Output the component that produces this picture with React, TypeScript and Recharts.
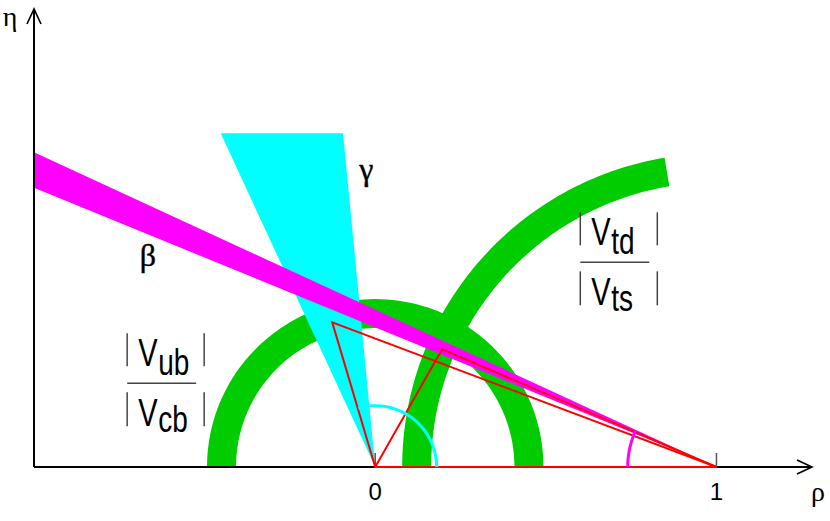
import React from "react";
import { ScatterChart, Scatter, XAxis, YAxis } from "recharts";

// plane limits (rho, eta)
const rhoDomain = [-1, 1.28];
const etaDomain = [0, 1.345];
const rhoTicks = [0, 1];

// |Vub|/|Vcb| ring around (0,0): inner, outer radius
const vubRadius = [0.408, 0.493];
// |Vtd|/|Vts| ring around (1,0): inner, outer radius, starting angle (deg)
const vtdRadius = [0.836, 0.921];
const vtdStartDeg = 99.5;
// beta band, angles seen from (1,0) in degrees
const betaDeg = [22.3, 24.8];
// gamma wedge, angles seen from (0,0) in degrees, cut at eta = gammaTop
const gammaDeg = [95.5, 114.8];
const gammaTop = 0.98;
// triangle apexes
const apexes = [
  { rho: -0.126, eta: 0.425 },
  { rho: 0.196, eta: 0.346 }
];
// angle marks
const gammaMark = { r: 0.18, deg: 106 };
const betaMark = { r: 0.26, deg: 24 };

const greekLabels = [
  { text: "γ", rho: -0.026, eta: 0.842 },
  { text: "β", rho: -0.666, eta: 0.589 }
];
const fractionLabels = [
  { top: "ub", bottom: "cb", rho: -0.727, eta: 0.246 },
  { top: "td", bottom: "ts", rho: 0.601, eta: 0.601 }
];

type P = { x: number; y: number };

const rad = (d: number) => (d * Math.PI) / 180;

function arc(cx: number, cy: number, r: number, a0: number, a1: number, n = 90): P[] {
  const pts: P[] = [];
  for (let i = 0; i <= n; i++) {
    const a = rad(a0 + ((a1 - a0) * i) / n);
    pts.push({ x: cx + r * Math.cos(a), y: cy + r * Math.sin(a) });
  }
  return pts;
}

function ring(cx: number, cy: number, r: number[], a0: number, a1: number): P[] {
  return [...arc(cx, cy, r[1], a0, a1), ...arc(cx, cy, r[0], a1, a0)];
}

const vubRing = ring(0, 0, vubRadius, 0, 180);
const vtdRing = ring(1, 0, vtdRadius, vtdStartDeg, 180);
const betaBand: P[] = [
  { x: 1, y: 0 },
  { x: rhoDomain[0], y: (1 - rhoDomain[0]) * Math.tan(rad(betaDeg[1])) },
  { x: rhoDomain[0], y: (1 - rhoDomain[0]) * Math.tan(rad(betaDeg[0])) }
];
const gammaWedge: P[] = [
  { x: 0, y: 0 },
  { x: gammaTop / Math.tan(rad(gammaDeg[1])), y: gammaTop },
  { x: gammaTop / Math.tan(rad(gammaDeg[0])), y: gammaTop }
];
const triangles = apexes.map((a) => [
  { x: 0, y: 0 },
  { x: 1, y: 0 },
  { x: a.rho, y: a.eta }
]);
const gammaArc = arc(0, 0, gammaMark.r, 0, gammaMark.deg, 40);
const betaArc = arc(1, 0, betaMark.r, 180, 180 - betaMark.deg, 20);
const xAxisPts: P[] = [
  { x: rhoDomain[0], y: 0 },
  { x: rhoDomain[1], y: 0 }
];
const yAxisPts: P[] = [
  { x: rhoDomain[0], y: 0 },
  { x: rhoDomain[0], y: etaDomain[1] }
];
const tickPts = rhoTicks.map((t) => ({ x: t, y: 0 }));
const greekPts = greekLabels.map((g) => ({ x: g.rho, y: g.eta, text: g.text }));
const fractionPts = fractionLabels.map((f) => ({ x: f.rho, y: f.eta, top: f.top, bottom: f.bottom }));

const SANS = "'Liberation Sans', Arial, sans-serif";
const SERIF = "'Liberation Serif', 'DejaVu Serif', serif";

const toPath = (pts: P[], close: boolean) =>
  pts.map((p, i) => `${i ? "L" : "M"}${p.x},${p.y}`).join(" ") + (close ? " Z" : "");

const noShape = () => <g />;

const filled = (color: string) => (props: any) =>
  <path d={toPath(props.points, true)} fill={color} stroke="none" />;

const outline = (color: string, width: number, close: boolean) => (props: any) =>
  <path d={toPath(props.points, close)} fill="none" stroke={color} strokeWidth={width} />;

function arrowAxis(label: string, dx: number, dy: number) {
  return (props: any) => {
    const pts: P[] = props.points;
    const a = pts[pts.length - 2];
    const b = pts[pts.length - 1];
    const len = Math.hypot(b.x - a.x, b.y - a.y);
    const ux = (b.x - a.x) / len;
    const uy = (b.y - a.y) / len;
    const back = 15;
    const side = 7;
    const l = { x: b.x - ux * back - uy * side, y: b.y - uy * back + ux * side };
    const r = { x: b.x - ux * back + uy * side, y: b.y - uy * back - ux * side };
    return (
      <g>
        <path d={toPath(pts, false)} fill="none" stroke="#000" strokeWidth={2} />
        <path d={`M${l.x},${l.y} L${b.x},${b.y} L${r.x},${r.y}`} fill="none" stroke="#000" strokeWidth={1.6} />
        <text x={b.x + dx} y={b.y + dy} textAnchor="middle" fontFamily={SERIF} fontSize={28} fill="#000">
          {label}
        </text>
      </g>
    );
  };
}

const tickMark = (props: any) => (
  <line x1={props.cx} y1={props.cy} x2={props.cx} y2={props.cy - 14} stroke="#555" strokeWidth={1.5} />
);

const tickLabel = (props: any) => (
  <text x={props.x} y={props.y + 33} textAnchor="middle" fontFamily={SANS} fontSize={24} fill="#000">
    {props.payload.value}
  </text>
);

const greekShape = (props: any) => (
  <text
    x={props.cx}
    y={props.cy}
    textAnchor="middle"
    fontFamily={SERIF}
    fontSize={32}
    fill="#000"
    stroke="#000"
    strokeWidth={0.4}>
    {props.payload.text}
  </text>
);

function stretched(x: number, y: number, s: string, size: number) {
  return (
    <text transform={`translate(${x},${y}) scale(1,1.35)`} fontFamily={SANS} fontSize={size} fill="#000">
      {s}
    </text>
  );
}

const fractionShape = (props: any) => {
  const x = props.cx;
  const y = props.cy;
  const bar = "#444";
  return (
    <g>
      <line x1={x} y1={y} x2={x + 69} y2={y} stroke={bar} strokeWidth={1.5} />
      <line x1={x} y1={y - 50} x2={x} y2={y - 17} stroke={bar} strokeWidth={1.5} />
      <line x1={x + 77} y1={y - 50} x2={x + 77} y2={y - 17} stroke={bar} strokeWidth={1.5} />
      <line x1={x} y1={y + 9} x2={x} y2={y + 43} stroke={bar} strokeWidth={1.5} />
      <line x1={x + 77} y1={y + 9} x2={x + 77} y2={y + 43} stroke={bar} strokeWidth={1.5} />
      {stretched(x + 11, y - 17, "V", 29)}
      {stretched(x + 31, y - 8, props.payload.top, 28)}
      {stretched(x + 11, y + 43, "V", 29)}
      {stretched(x + 31, y + 49, props.payload.bottom, 28)}
    </g>
  );
};

export default function App() {
  return (
    <div style={{ position: "absolute", left: 0, top: 0, width: 830, height: 521 }}>
      <ScatterChart width={830} height={521} margin={{ top: 9, right: 18, bottom: 0, left: 34 }}>
        <XAxis
          type="number"
          dataKey="x"
          domain={rhoDomain}
          ticks={rhoTicks}
          axisLine={false}
          tickLine={false}
          tickSize={0}
          tickMargin={0}
          tick={tickLabel}
          height={54}
          interval={0}
        />
        <YAxis type="number" dataKey="y" domain={etaDomain} ticks={[0]} hide />
        <Scatter data={vubRing} shape={noShape} line={filled("#00cc00")} isAnimationActive={false} />
        <Scatter data={vtdRing} shape={noShape} line={filled("#00cc00")} isAnimationActive={false} />
        <Scatter data={gammaWedge} shape={noShape} line={filled("#00ffff")} isAnimationActive={false} />
        <Scatter data={betaBand} shape={noShape} line={filled("#ff00ff")} isAnimationActive={false} />
        <Scatter data={xAxisPts} shape={noShape} line={arrowAxis("ρ", 6, 34)} isAnimationActive={false} />
        <Scatter data={yAxisPts} shape={noShape} line={arrowAxis("η", -24, 17)} isAnimationActive={false} />
        <Scatter data={tickPts} shape={tickMark} isAnimationActive={false} />
        {triangles.map((t, i) => (
          <Scatter key={i} data={t} shape={noShape} line={outline("#ff0000", 2, true)} isAnimationActive={false} />
        ))}
        <Scatter data={gammaArc} shape={noShape} line={outline("#00ffff", 3, false)} isAnimationActive={false} />
        <Scatter data={betaArc} shape={noShape} line={outline("#ff00ff", 3, false)} isAnimationActive={false} />
        <Scatter data={greekPts} shape={greekShape} isAnimationActive={false} />
        <Scatter data={fractionPts} shape={fractionShape} isAnimationActive={false} />
      </ScatterChart>
    </div>
  );
}
